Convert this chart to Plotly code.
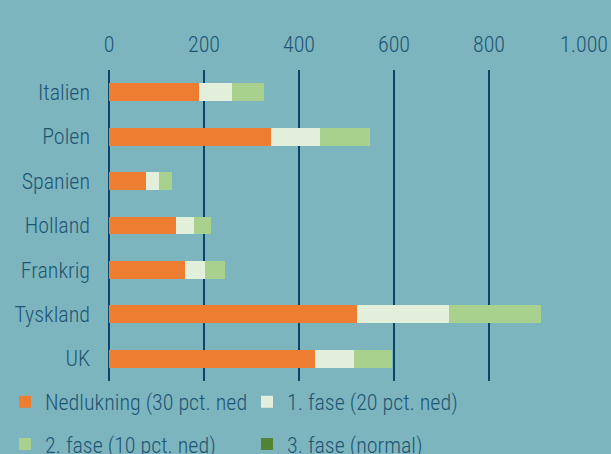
import plotly.graph_objects as go

countries = ["Italien", "Polen", "Spanien", "Holland", "Frankrig", "Tyskland", "UK"]
nedlukning = [190, 342, 78, 141, 161, 523, 433]
fase1 = [69, 103, 27, 38, 42, 192, 82]
fase2 = [68, 104, 27, 36, 42, 194, 81]
fase3 = [0, 0, 0, 0, 0, 0, 0]
series_names = ["Nedlukning (30 pct. ned", "1. fase (20 pct. ned)", "2. fase (10 pct. ned)", "3. fase (normal)"]
x_ticks = [0, 200, 400, 600, 800, 1000]

colors = ["#ed7d31", "#e2efda", "#a9d18e", "#548235"]
bg = "#7db5bf"
txt = "#1d5573"
grid = "#0b4566"
FONT = "Roboto Condensed, Liberation Sans Narrow, Arial Narrow, sans-serif"
fnt = dict(family=FONT, size=22, color=txt, weight=300)

fig = go.Figure()
for i, (name, vals) in enumerate(zip(series_names, [nedlukning, fase1, fase2, fase3])):
    fig.add_trace(go.Bar(
        y=countries, x=vals, name=name, orientation="h",
        marker=dict(color=colors[i], line=dict(width=0)),
        legend="legend" if i < 2 else "legend2",
    ))

fig.update_layout(
    width=611, height=454,
    barmode="stack", bargap=0.6,
    paper_bgcolor=bg, plot_bgcolor=bg,
    separators=",.",
    font=fnt,
    margin=dict(l=109, r=27, t=70, b=73, autoexpand=False),
    xaxis=dict(
        side="top", range=[0, 1000], tickvals=x_ticks,
        separatethousands=True, showgrid=True, gridcolor=grid, gridwidth=2,
        zeroline=True, zerolinecolor=grid, zerolinewidth=2,
        showline=False, ticks="", ticklabelstandoff=13,
        tickfont=fnt,
    ),
    yaxis=dict(
        autorange="reversed", showgrid=False, zeroline=False, showline=False,
        ticks="", ticklabelstandoff=18,
        tickfont=fnt,
    ),
    legend=dict(
        orientation="h", x=-0.219, xanchor="left", y=-0.0675, yanchor="middle",
        entrywidth=197, entrywidthmode="pixels", bgcolor="rgba(0,0,0,0)",
        font=fnt, traceorder="normal",
    ),
    legend2=dict(
        orientation="h", x=-0.219, xanchor="left", y=-0.203, yanchor="middle",
        entrywidth=197, entrywidthmode="pixels", bgcolor="rgba(0,0,0,0)",
        font=fnt, traceorder="normal",
    ),
)

fig.write_html("out.html", config={"displayModeBar": False},
               post_script="document.body.style.margin='0';")
